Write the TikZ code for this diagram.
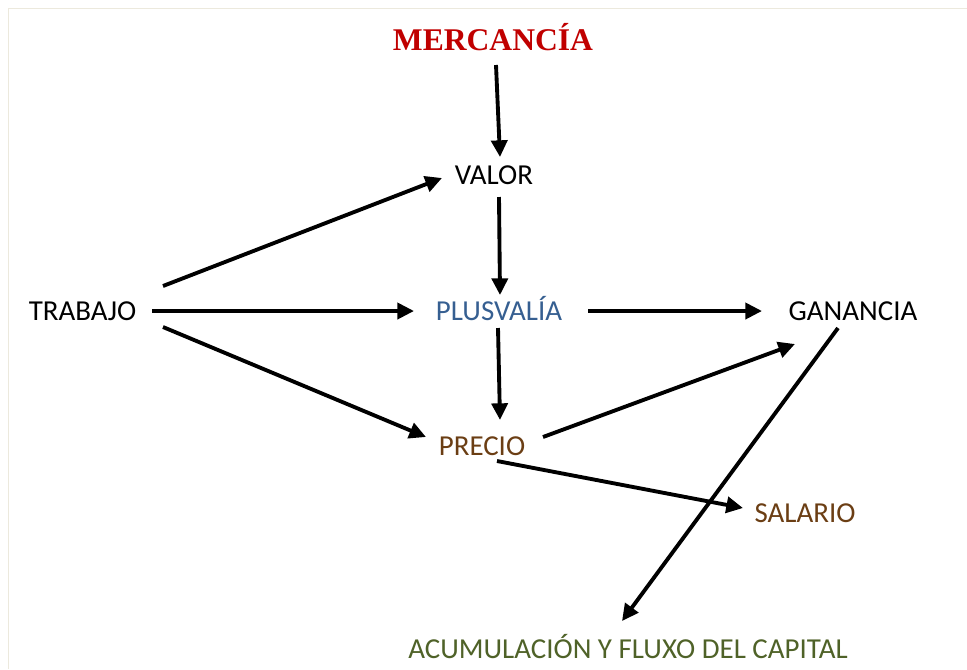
\documentclass[tikz,border=0pt]{standalone}
\usepackage{fontspec}
\setmainfont{Carlito}
\newfontfamily\titlefont{Liberation Serif}
\usetikzlibrary{arrows.meta,calc}
\definecolor{titlered}{HTML}{C00000}
\definecolor{plusblue}{HTML}{365F91}
\definecolor{precbrown}{HTML}{6B3E14}
\definecolor{acumgreen}{HTML}{4F6228}
\definecolor{framebeige}{HTML}{ECE9DD}
\begin{document}
\begin{tikzpicture}[x=0.75pt,y=-0.75pt,
  lbl/.style={inner sep=0pt,anchor=base,font=\fontsize{21.7}{24}\selectfont},
  arr/.style={line width=2.9pt,-{Triangle[length=12.5pt,width=12pt]}}]
\useasboundingbox (0,0) rectangle (967,669);
\draw[framebeige,line width=1.2pt] (8.5,669) -- (8.5,8.5) -- (967,8.5);
\node[lbl,font=\titlefont\bfseries\fontsize{23.7}{26}\selectfont,text=titlered] (merc) at (493,50) {MERCANCÍA};
\node[lbl] (valor) at (494,184) {VALOR};
\node[lbl] (trab) at (82.5,320) {TRABAJO};
\node[lbl,text=plusblue] (plus) at (499,320) {PLUSVALÍA};
\node[lbl] (gan) at (853,320) {GANANCIA};
\node[lbl,text=precbrown] (prec) at (482,455) {PRECIO};
\node[lbl,text=precbrown] (sal) at (805,522) {SALARIO};
\node[lbl,text=acumgreen] (acum) at (628,658) {ACUMULACIÓN Y FLUXO DEL CAPITAL};
\draw[arr] ($(merc.base)+(3,15)$) -- ($(valor.base)+(6,-27)$);
\draw[arr] ($(valor.base)+(5,13)$) -- ($(plus.base)+(1,-25)$);
\draw[arr] ($(trab.base)+(80.5,-34)$) -- ($(valor.base)+(-52,-6)$);
\draw[arr] ($(trab.base)+(69.5,-9)$) -- ($(plus.base)+(-85,-9)$);
\draw[arr] ($(trab.base)+(80.5,7)$) -- ($(prec.base)+(-56,-18)$);
\draw[arr] ($(plus.base)+(-1,8)$) -- ($(prec.base)+(18,-35)$);
\draw[arr] ($(plus.base)+(89,-9)$) -- ($(gan.base)+(-91,-9)$);
\draw[arr] ($(prec.base)+(61,-18)$) -- ($(gan.base)+(-58,24)$);
\draw[arr] ($(prec.base)+(15,6)$) -- ($(sal.base)+(-62,-14)$);
\draw[arr] ($(gan.base)+(-15,8)$) -- ($(acum.base)+(-6,-37)$);
\end{tikzpicture}
\end{document}
